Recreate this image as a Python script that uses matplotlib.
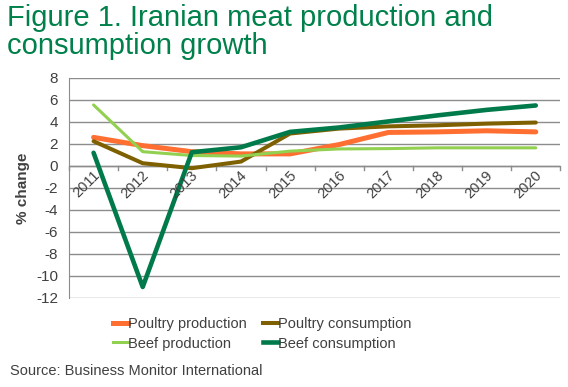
import matplotlib
matplotlib.use("Agg")
import matplotlib.pyplot as plt
from matplotlib.lines import Line2D

plt.rcParams['font.family'] = ['Liberation Sans', 'DejaVu Sans']
plt.rcParams['axes.unicode_minus'] = False

years = ['2011', '2012', '2013', '2014', '2015', '2016', '2017', '2018', '2019', '2020']
poultry_prod = [2.6, 1.85, 1.3, 1.1, 1.1, 1.95, 3.05, 3.1, 3.2, 3.1]
poultry_cons = [2.25, 0.25, -0.2, 0.4, 2.95, 3.4, 3.6, 3.7, 3.85, 3.95]
beef_prod = [5.55, 1.3, 0.95, 0.9, 1.35, 1.55, 1.58, 1.65, 1.65, 1.65]
beef_cons = [1.2, -11.0, 1.25, 1.7, 3.1, 3.5, 4.05, 4.6, 5.1, 5.5]

series = [
    ('Poultry production', poultry_prod, '#FF6F31', 3.6),
    ('Poultry consumption', poultry_cons, '#7F6000', 2.9),
    ('Beef production', beef_prod, '#92D050', 2.2),
    ('Beef consumption', beef_cons, '#007A4A', 3.3),
]

fig = plt.figure(figsize=(5.68, 3.87), dpi=100)
ax = fig.add_axes([0.1215, 0.230, 0.865, 0.5685])

x = list(range(len(years)))
handles = {}
for name, vals, col, lw in series:
    ax.plot(x, vals, color=col, lw=lw, solid_capstyle='round', solid_joinstyle='round', zorder=3)
    handles[name] = Line2D([0], [0], color=col, lw=lw, label=name)

ax.set_xlim(-0.5, len(years) - 0.5)
ax.set_ylim(-12, 8)
ax.set_yticks(range(-12, 9, 2))
ax.tick_params(axis='y', labelsize=11, colors='#404040', length=0, pad=8)
ax.yaxis.grid(True, color='#8c8c8c', lw=1)
ax.set_axisbelow(True)
ax.set_xticks([])
for s in ['top', 'right', 'bottom']:
    ax.spines[s].set_visible(False)
ax.spines['left'].set_color('#8c8c8c')

# category axis at y=0 with boundary ticks
ax.axhline(0, color='#8c8c8c', lw=1, zorder=1)
for b in range(len(years) + 1):
    ax.plot([b - 0.5, b - 0.5], [0, -0.35], color='#8c8c8c', lw=1, clip_on=False, zorder=1)
for i, y in enumerate(years):
    ax.text(i + 0.18, -0.2, y, rotation=45, ha='right', va='top', fontsize=10.5, color='#404040')

ax.set_ylabel('% change', fontsize=11, fontweight='bold', color='#404040', labelpad=4)

fig.text(0.012, 0.99, 'Figure 1. Iranian meat production and\nconsumption growth',
         fontsize=21, color='#00804A', va='top', ha='left', linespacing=1.0)

# matplotlib fills legend columns first: order so rows read poultry / beef
order = ['Poultry production', 'Beef production', 'Poultry consumption', 'Beef consumption']
fig.legend(handles=[handles[n] for n in order], ncol=2, loc='center', bbox_to_anchor=(0.462, 0.137),
           frameon=False, fontsize=10.5, handlelength=1.0, handletextpad=0.0,
           columnspacing=1.15, labelspacing=0.35, labelcolor='#404040')

fig.text(0.018, 0.03, 'Source: Business Monitor International', fontsize=10.5, color='#404040')

fig.savefig('out.png', dpi=100)
